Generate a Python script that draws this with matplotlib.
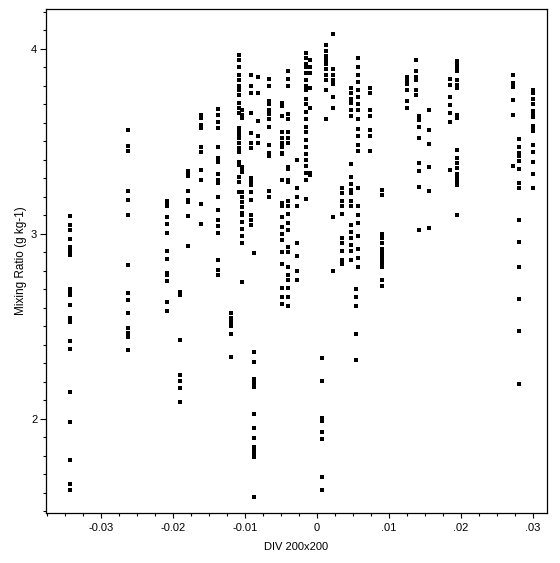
import matplotlib
matplotlib.use("Agg")
from matplotlib import pyplot as plt
from matplotlib.ticker import MultipleLocator, FixedLocator, FixedFormatter

# Columns of points: DIV value and the mixing ratios at that DIV
col_a_x = -0.0343
col_a_y = [3.097, 3.047, 3.02, 2.971, 2.931, 2.917, 2.904, 2.886, 2.70, 2.686, 2.672, 2.614,
           2.545, 2.535, 2.526, 2.42, 2.38, 2.144, 1.982, 1.777, 1.649, 1.614]
col_b_x = -0.0263
col_b_y = [3.561, 3.474, 3.447, 3.231, 3.182, 3.101, 2.831, 2.679, 2.642, 2.571, 2.492, 2.463,
           2.45, 2.442, 2.373]
col_c_x = -0.0209
col_c_y = [3.177, 3.162, 3.151, 3.09, 3.052, 3.004, 2.906, 2.867, 2.791, 2.777, 2.744, 2.631, 2.584]
col_d_x = -0.0190
col_d_y = [2.686, 2.670, 2.427, 2.238, 2.204, 2.166, 2.092]
col_e_x = -0.0179
col_e_y = [3.342, 3.328, 3.314, 3.232, 3.184, 3.171, 3.096, 2.935]
col_f_x = -0.0161
col_f_y = [3.643, 3.627, 3.589, 3.573, 3.472, 3.445, 3.346, 3.292, 3.162, 3.054]
col_g_x = -0.0138
col_g_y = [3.674, 3.643, 3.607, 3.571, 3.469, 3.409, 3.391, 3.324, 3.292, 3.274, 3.202, 3.13,
           3.076, 3.043, 3.004, 2.859, 2.805, 2.778]
col_h_x = -0.0120
col_h_y = [2.571, 2.546, 2.526, 2.503, 2.459, 2.337]
col_i_x = -0.0108
col_i_y = [3.97, 3.94, 3.90, 3.86, 3.83, 3.80, 3.78, 3.75, 3.708, 3.681, 3.654, 3.573, 3.557,
           3.535, 3.519, 3.492, 3.465, 3.443, 3.389, 3.373, 3.308, 3.281, 3.227]
col_j_x = -0.0104
col_j_y = [3.670, 3.643, 3.627, 3.362, 3.346, 3.335, 3.227, 3.2, 3.173, 3.146, 3.114, 3.103,
           3.065, 3.027, 2.989, 2.951, 2.741]
col_k_x = -0.0092
col_k_y = [3.86, 3.80, 3.76, 3.652, 3.544, 3.49, 3.463, 3.303, 3.283, 3.265, 3.227, 3.184,
           3.103, 3.076, 3.049]
col_l_x = -0.00875
col_l_y = [2.896, 2.364, 2.306, 2.216, 2.2, 2.184, 2.175, 2.025, 1.95, 1.899, 1.85, 1.838,
           1.818, 1.793, 1.577]
col_m_x = -0.0082
col_m_y = [3.85, 3.76, 3.612, 3.53, 3.49]
col_n_x = -0.0067
col_n_y = [3.84, 3.80, 3.72, 3.70, 3.67, 3.65, 3.62, 3.58, 3.48, 3.44, 3.42, 3.23, 3.20]
col_o_x = -0.0048
col_o_y = [3.71, 3.69, 3.64, 3.55, 3.52, 3.49, 3.47, 3.44, 3.43, 3.29, 3.17, 3.15, 3.09,
           3.04, 3.0, 2.97, 2.90, 2.84, 2.71, 2.66, 2.62]
col_p_x = -0.0040
col_p_y = [3.88, 3.84, 3.80, 3.65, 3.62, 3.55, 3.52, 3.49, 3.36, 3.35, 3.29, 3.28, 3.18,
           3.15, 3.11, 3.06, 3.02, 2.93, 2.90, 2.82, 2.78, 2.75, 2.71, 2.66, 2.61]
col_q_x = -0.0028
col_q_y = [3.40, 3.25, 3.20, 3.15, 2.95, 2.88, 2.80, 2.75]
col_r_x = -0.0015
col_r_y = [3.98, 3.95, 3.92, 3.90, 3.87, 3.83, 3.80, 3.78, 3.73, 3.70, 3.66, 3.62, 3.58,
           3.55, 3.51, 3.47, 3.43, 3.40, 3.37, 3.33, 3.29, 3.19]
col_s_x = -0.0010
col_s_y = [3.94, 3.90, 3.87, 3.79, 3.68, 3.33, 3.32]
col_t_x = 0.00065
col_t_y = [2.328, 2.207, 2.005, 1.99, 1.931, 1.89, 1.688, 1.616]
col_u_x = 0.0013
col_u_y = [4.02, 3.99, 3.96, 3.94, 3.92, 3.89, 3.86, 3.83, 3.78, 3.62]
col_v_x = 0.0022
col_v_y = [4.08, 3.89, 3.86, 3.83, 3.81, 3.74, 3.68, 3.09, 2.80]
col_w_x = 0.0035
col_w_y = [3.25, 3.22, 3.18, 3.15, 3.11, 2.98, 2.95, 2.91, 2.86, 2.84]
col_x_x = 0.0047
col_x_y = [3.79, 3.76, 3.73, 3.71, 3.67, 3.64, 3.38, 3.31, 3.27, 3.24, 3.22, 3.18, 3.15,
           3.05, 3.01, 2.98, 2.94, 2.91, 2.86]
col_y_x = 0.0054
col_y_y = [2.70, 2.66, 2.61, 2.46, 2.32]
col_z_x = 0.0057
col_z_y = [3.95, 3.90, 3.86, 3.82, 3.78, 3.74, 3.70, 3.67, 3.62, 3.57, 3.53, 3.48, 3.45,
           3.25, 3.15, 3.10, 3.06, 2.99, 2.92, 2.87, 2.82]
col_aa_x = 0.0074
col_aa_y = [3.79, 3.76, 3.67, 3.64, 3.56, 3.53, 3.45]
col_ab_x = 0.0090
col_ab_y = [3.24, 3.21, 3.0, 2.98, 2.95, 2.92, 2.90, 2.88, 2.86, 2.84, 2.82, 2.75, 2.72]
col_ac_x = 0.0125
col_ac_y = [3.85, 3.83, 3.81, 3.78, 3.72, 3.68]
col_ad_x = 0.0138
col_ad_y = [3.94, 3.88, 3.85, 3.83, 3.78, 3.75]
col_ae_x = 0.0142
col_ae_y = [3.638, 3.616, 3.577, 3.517, 3.382, 3.342, 3.256, 3.022]
col_af_x = 0.0155
col_af_y = [3.67, 3.562, 3.485, 3.36, 3.232, 3.031]
col_ag_x = 0.0185
col_ag_y = [3.836, 3.807, 3.742, 3.697, 3.652, 3.607, 3.346]
col_ah_x = 0.0195
col_ah_y = [3.937, 3.914, 3.898, 3.883, 3.832, 3.805, 3.789, 3.643, 3.629, 3.454, 3.411,
            3.384, 3.355, 3.324, 3.30, 3.28, 3.265, 3.103]
col_ai_x = 0.0272
col_ai_y = [3.859, 3.818, 3.796, 3.724, 3.643, 3.368]
col_aj_x = 0.0281
col_aj_y = [3.512, 3.469, 3.44, 3.42, 3.396, 3.351, 3.274, 3.247, 3.076, 2.958, 2.82,
            2.649, 2.477, 2.189]
col_ak_x = 0.0300
col_ak_y = [3.778, 3.76, 3.728, 3.703, 3.665, 3.65, 3.634, 3.584, 3.57, 3.558, 3.481,
            3.442, 3.388, 3.324, 3.25]

columns = [
    (col_a_x, col_a_y), (col_b_x, col_b_y), (col_c_x, col_c_y), (col_d_x, col_d_y),
    (col_e_x, col_e_y), (col_f_x, col_f_y), (col_g_x, col_g_y), (col_h_x, col_h_y),
    (col_i_x, col_i_y), (col_j_x, col_j_y), (col_k_x, col_k_y), (col_l_x, col_l_y),
    (col_m_x, col_m_y), (col_n_x, col_n_y), (col_o_x, col_o_y), (col_p_x, col_p_y),
    (col_q_x, col_q_y), (col_r_x, col_r_y), (col_s_x, col_s_y), (col_t_x, col_t_y),
    (col_u_x, col_u_y), (col_v_x, col_v_y), (col_w_x, col_w_y), (col_x_x, col_x_y),
    (col_y_x, col_y_y), (col_z_x, col_z_y), (col_aa_x, col_aa_y), (col_ab_x, col_ab_y),
    (col_ac_x, col_ac_y), (col_ad_x, col_ad_y), (col_ae_x, col_ae_y), (col_af_x, col_af_y),
    (col_ag_x, col_ag_y), (col_ah_x, col_ah_y), (col_ai_x, col_ai_y), (col_aj_x, col_aj_y),
    (col_ak_x, col_ak_y),
]

xs, ys = [], []
for cx, cy in columns:
    xs += [cx] * len(cy)
    ys += cy

x_ticks = [-0.03, -0.02, -0.01, 0, 0.01, 0.02, 0.03]
x_labels = ["-0.03", "-0.02", "-0.01", "0", ".01", ".02", ".03"]
y_ticks = [2, 3, 4]
y_labels = ["2", "3", "4"]

plt.rcParams["font.family"] = ["Liberation Sans", "DejaVu Sans"]
plt.rcParams["font.size"] = 8

fig = plt.figure(figsize=(5.6, 5.63), dpi=100)
ax = fig.add_axes([46 / 560, 1 - 512.7 / 563, (547 - 46) / 560, (512.7 - 9) / 563])

ax.plot(xs, ys, "s", color="black", markersize=2.2, markeredgewidth=0)

ax.set_xlim(-0.03764, 0.03194)
ax.set_ylim(1.4935, 4.216)

ax.xaxis.set_major_locator(FixedLocator(x_ticks))
ax.xaxis.set_major_formatter(FixedFormatter(x_labels))
ax.xaxis.set_minor_locator(MultipleLocator(0.0025))
ax.yaxis.set_major_locator(FixedLocator(y_ticks))
ax.yaxis.set_major_formatter(FixedFormatter(y_labels))
ax.yaxis.set_minor_locator(MultipleLocator(0.1))

ax.tick_params(which="major", direction="out", width=0.8, labelsize=8)
ax.tick_params(which="minor", direction="out", length=2.2, width=0.8)
ax.tick_params(axis="x", which="major", length=3.6, pad=4)
ax.tick_params(axis="y", which="major", length=4.3, pad=2)

for s in ax.spines.values():
    s.set_linewidth(0.9)

ax.set_xlabel("DIV 200x200", fontsize=8, labelpad=6)
ax.set_ylabel("Mixing Ratio (g kg-1)", fontsize=8.5, labelpad=3)

fig.savefig("out.png", dpi=100, facecolor="white")
